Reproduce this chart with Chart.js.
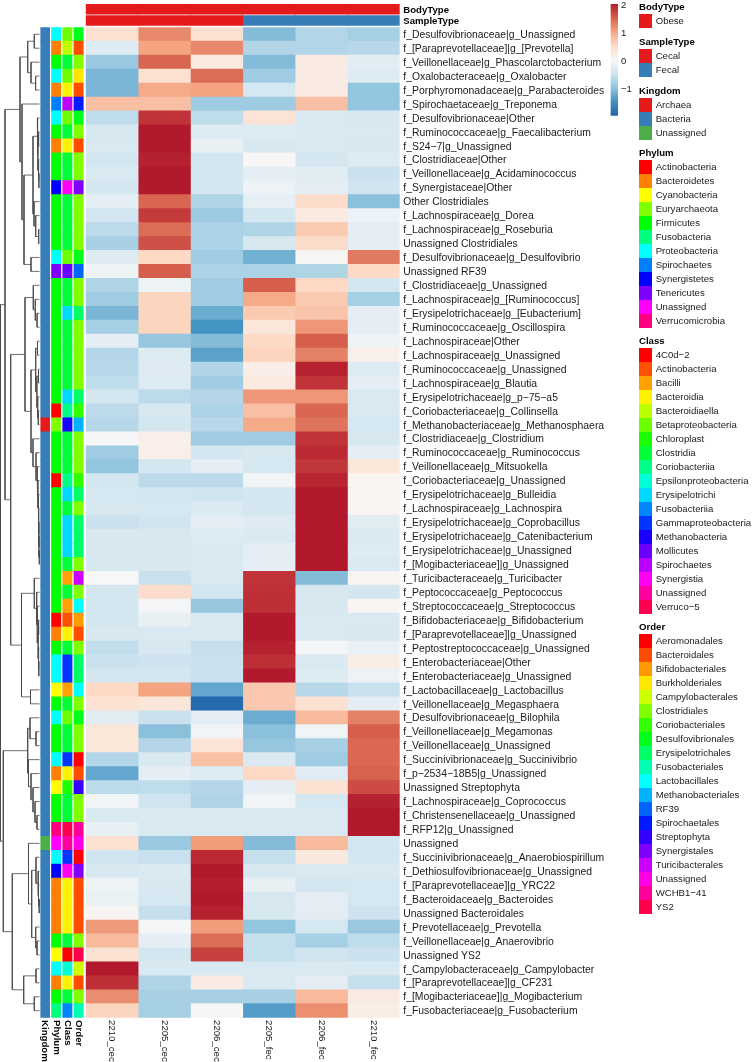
<!DOCTYPE html>
<html>
<head>
<meta charset="utf-8">
<title>Heatmap</title>
<script src="https://cdn.jsdelivr.net/npm/chart.js@4/dist/chart.umd.min.js"></script>
<style>
  body { margin: 0; background: #fff; overflow: hidden; }
  #stage { position: relative; width: 752px; height: 1062px; font-family: "Liberation Sans", Arial, sans-serif; font-size: 9.6px; color: #1a1a1a; }
  #stage canvas { position: absolute; left: 0; top: 0; }
  .leg { position: absolute; left: 639px; }
  .leg b { position: absolute; left: 0; top: -14px; line-height: 14px; color: #000; white-space: nowrap; }
  .leg div { position: relative; height: 14px; line-height: 14px; padding-left: 16.7px; white-space: nowrap; }
  .leg i { position: absolute; left: 0; top: 0; width: 13.3px; height: 14px; }
</style>
</head>
<body>
<div id="stage"></div>
<script>
// data

const rowLabels = [
  "f_Desulfovibrionaceae|g_Unassigned", "f_[Paraprevotellaceae]|g_[Prevotella]", "f_Veillonellaceae|g_Phascolarctobacterium",
  "f_Oxalobacteraceae|g_Oxalobacter", "f_Porphyromonadaceae|g_Parabacteroides", "f_Spirochaetaceae|g_Treponema",
  "f_Desulfovibrionaceae|Other", "f_Ruminococcaceae|g_Faecalibacterium", "f_S24−7|g_Unassigned", "f_Clostridiaceae|Other",
  "f_Veillonellaceae|g_Acidaminococcus", "f_Synergistaceae|Other", "Other Clostridiales", "f_Lachnospiraceae|g_Dorea",
  "f_Lachnospiraceae|g_Roseburia", "Unassigned Clostridiales", "f_Desulfovibrionaceae|g_Desulfovibrio", "Unassigned RF39",
  "f_Clostridiaceae|g_Unassigned", "f_Lachnospiraceae|g_[Ruminococcus]", "f_Erysipelotrichaceae|g_[Eubacterium]",
  "f_Ruminococcaceae|g_Oscillospira", "f_Lachnospiraceae|Other", "f_Lachnospiraceae|g_Unassigned", "f_Ruminococcaceae|g_Unassigned",
  "f_Lachnospiraceae|g_Blautia", "f_Erysipelotrichaceae|g_p−75−a5", "f_Coriobacteriaceae|g_Collinsella",
  "f_Methanobacteriaceae|g_Methanosphaera", "f_Clostridiaceae|g_Clostridium", "f_Ruminococcaceae|g_Ruminococcus",
  "f_Veillonellaceae|g_Mitsuokella", "f_Coriobacteriaceae|g_Unassigned", "f_Erysipelotrichaceae|g_Bulleidia",
  "f_Lachnospiraceae|g_Lachnospira", "f_Erysipelotrichaceae|g_Coprobacillus", "f_Erysipelotrichaceae|g_Catenibacterium",
  "f_Erysipelotrichaceae|g_Unassigned", "f_[Mogibacteriaceae]|g_Unassigned", "f_Turicibacteraceae|g_Turicibacter",
  "f_Peptococcaceae|g_Peptococcus", "f_Streptococcaceae|g_Streptococcus", "f_Bifidobacteriaceae|g_Bifidobacterium",
  "f_[Paraprevotellaceae]|g_Unassigned", "f_Peptostreptococcaceae|g_Unassigned", "f_Enterobacteriaceae|Other",
  "f_Enterobacteriaceae|g_Unassigned", "f_Lactobacillaceae|g_Lactobacillus", "f_Veillonellaceae|g_Megasphaera",
  "f_Desulfovibrionaceae|g_Bilophila", "f_Veillonellaceae|g_Megamonas", "f_Veillonellaceae|g_Unassigned",
  "f_Succinivibrionaceae|g_Succinivibrio", "f_p−2534−18B5|g_Unassigned", "Unassigned Streptophyta",
  "f_Lachnospiraceae|g_Coprococcus", "f_Christensenellaceae|g_Unassigned", "f_RFP12|g_Unassigned", "Unassigned",
  "f_Succinivibrionaceae|g_Anaerobiospirillum", "f_Dethiosulfovibrionaceae|g_Unassigned", "f_[Paraprevotellaceae]|g_YRC22",
  "f_Bacteroidaceae|g_Bacteroides", "Unassigned Bacteroidales", "f_Prevotellaceae|g_Prevotella", "f_Veillonellaceae|g_Anaerovibrio",
  "Unassigned YS2", "f_Campylobacteraceae|g_Campylobacter", "f_[Paraprevotellaceae]|g_CF231", "f_[Mogibacteriaceae]|g_Mogibacterium",
  "f_Fusobacteriaceae|g_Fusobacterium"
];

const sampleLabels = ["2210_cec", "2205_cec", "2206_cec", "2205_fec", "2206_fec", "2210_fec"];

const cec2210 = [
  0.45,-0.3,-0.9,-1.1,-1.1,0.8,-0.6,-0.38,-0.35,-0.42,
  -0.35,-0.42,-0.2,-0.44,-0.62,-0.78,-0.28,-0.07,-0.72,-0.85,
  -1.1,-0.8,-0.2,-0.68,-0.65,-0.6,-0.42,-0.62,-0.65,0.02,
  -0.85,-0.95,-0.42,-0.4,-0.38,-0.5,-0.38,-0.38,-0.38,0.05,
  -0.42,-0.42,-0.42,-0.38,-0.58,-0.5,-0.42,0.55,0.42,-0.25,
  0.35,0.35,-0.7,-1.25,-0.62,-0.05,-0.35,-0.18,0.45,-0.45,
  -0.38,-0.08,-0.12,0.1,1.12,0.85,0.42,2.04,1.88,1.22,
  0.6
];
const cec2205 = [
  1.25,1.05,1.5,0.45,1.0,0.8,1.85,2.03,2.03,1.98,
  2.03,2.03,1.5,1.8,1.45,1.65,0.55,1.55,-0.07,0.6,
  0.6,0.6,-0.92,-0.3,-0.28,-0.3,-0.62,-0.38,-0.42,0.2,
  0.2,-0.42,-0.62,-0.42,-0.4,-0.45,-0.38,-0.38,-0.38,-0.52,
  0.5,0.0,-0.15,-0.35,-0.38,-0.48,-0.42,1.05,0.35,-0.5,
  -1.0,-0.68,-0.35,-0.2,-0.6,-0.45,-0.33,-0.35,-0.9,-0.52,
  -0.33,-0.38,-0.4,-0.55,0.02,-0.2,-0.42,-0.35,-0.72,-0.78,
  -0.8
];
const cec2206 = [
  0.45,1.25,0.3,1.45,1.05,-0.85,-0.6,-0.3,-0.15,-0.42,
  -0.42,-0.42,-0.72,-0.88,-0.75,-0.75,-0.85,-0.75,-0.85,-0.85,
  -1.2,-1.45,-1.05,-1.3,-0.7,-0.85,-0.68,-0.75,-0.65,-0.85,
  -0.42,-0.2,-0.62,-0.45,-0.32,-0.22,-0.3,-0.35,-0.35,-0.35,
  -0.42,-0.92,-0.35,-0.35,-0.55,-0.5,-0.52,-1.25,-1.9,-0.22,
  -0.05,0.38,0.78,-0.3,-0.68,-0.72,-0.33,-0.35,1.1,1.92,
  2.03,2.0,2.04,1.98,1.1,1.45,1.75,-0.35,0.25,-0.78,
  0.03
];
const fec2205 = [
  -1.05,-0.7,-1.05,-0.85,-0.4,-0.85,0.4,-0.3,-0.38,0.07,
  -0.2,-0.1,-0.18,-0.42,-0.72,-0.38,-1.15,-0.75,1.55,1.0,
  0.7,0.35,0.55,0.62,0.2,0.28,1.15,0.8,1.0,-0.85,
  -0.38,-0.4,-0.02,-0.42,-0.42,-0.28,-0.32,-0.22,-0.2,1.85,
  1.88,1.88,2.03,2.03,1.98,1.88,2.03,0.72,0.72,-1.2,
  -1.0,-0.92,-0.32,0.55,-0.2,-0.05,-0.33,-0.35,-1.05,-0.55,
  -0.38,-0.15,-0.38,-0.38,-0.95,-0.55,-0.55,-0.35,-0.35,-0.78,
  -1.35
];
const fec2206 = [
  -0.7,-0.7,0.25,0.25,0.25,0.8,-0.35,-0.33,-0.35,-0.42,
  -0.25,-0.22,0.5,0.28,0.7,0.5,0.08,-0.72,0.55,0.7,
  0.75,1.15,1.55,1.3,1.98,1.85,1.15,1.5,1.4,1.85,
  1.92,1.83,1.95,2.03,2.03,2.04,2.04,2.04,2.04,-1.05,
  -0.38,-0.38,-0.35,-0.35,0.0,-0.32,-0.3,-0.65,0.42,0.85,
  -0.05,-0.78,-0.85,-0.27,0.42,-0.4,-0.33,-0.35,0.85,0.3,
  -0.35,-0.42,-0.22,-0.22,-0.4,-0.8,-0.45,-0.35,-0.22,0.85,
  1.2
];
const fec2210 = [
  -0.8,-0.65,-0.25,-0.3,-0.95,-0.95,-0.38,-0.35,-0.38,-0.3,
  -0.5,-0.45,-1.0,-0.1,-0.2,-0.2,1.35,0.55,-0.42,-0.8,
  -0.2,-0.2,-0.07,0.18,-0.3,-0.2,-0.35,-0.33,-0.4,-0.38,
  -0.2,0.35,0.1,0.1,0.1,-0.25,-0.32,-0.3,-0.33,0.1,
  -0.42,0.1,-0.35,-0.38,-0.12,0.22,-0.1,-0.52,-0.22,1.3,
  1.55,1.48,1.48,1.52,1.68,1.98,2.04,2.04,-0.42,-0.42,
  -0.35,-0.4,-0.4,-0.48,-0.9,-0.6,-0.5,-0.35,-0.55,0.25,
  0.22
];

const bodyTypeLevels = ["Obese"];
const sampleTypeLevels = ["Cecal", "Fecal"];
const kingdomLevels = ["Archaea", "Bacteria", "Unassigned"];
const phylumLevels = ["Actinobacteria", "Bacteroidetes", "Cyanobacteria", "Euryarchaeota", "Firmicutes", "Fusobacteria",
  "Proteobacteria", "Spirochaetes", "Synergistetes", "Tenericutes", "Unassigned", "Verrucomicrobia"];
const classLevels = ["4C0d−2", "Actinobacteria", "Bacilli", "Bacteroidia", "Bacteroidiaella", "Betaproteobacteria", "Chloroplast",
  "Clostridia", "Coriobacteriia", "Epsilonproteobacteria", "Erysipelotrichi", "Fusobacteriia", "Gammaproteobacteria",
  "Methanobacteria", "Mollicutes", "Spirochaetes", "Synergistia", "Unassigned", "Verruco−5"];
const orderLevels = ["Aeromonadales", "Bacteroidales", "Bifidobacteriales", "Burkholderiales", "Campylobacterales", "Clostridiales",
  "Coriobacteriales", "Desulfovibrionales", "Erysipelotrichales", "Fusobacteriales", "Lactobacillales", "Methanobacteriales",
  "RF39", "Spirochaetales", "Streptophyta", "Synergistales", "Turicibacterales", "Unassigned", "WCHB1−41", "YS2"];

// top annotation, one entry per sample
const colBodyType = [0, 0, 0, 0, 0, 0];
const colSampleType = [0, 0, 0, 1, 1, 1];

// row annotation, index into the level lists above
const rowKingdom = [
  1,1,1,1,1,1,1,1,1,1, 1,1,1,1,1,1,1,1,1,1, 1,1,1,1,1,1,1,1,0,1, 1,1,1,1,1,1,1,1,1,1,
  1,1,1,1,1,1,1,1,1,1, 1,1,1,1,1,1,1,1,2,1, 1,1,1,1,1,1,1,1,1,1, 1
];
const rowPhylum = [
  6,1,4,6,1,7,6,4,1,4, 4,8,4,4,4,4,6,9,4,4, 4,4,4,4,4,4,4,0,3,4, 4,4,0,4,4,4,4,4,4,4,
  4,4,0,1,4,6,6,2,4,6, 4,4,6,1,2,4,4,11,10,6, 8,1,1,1,1,4,2,6,1,4, 5
];
const rowClass = [
  5,4,7,5,3,15,5,7,3,7, 7,16,7,7,7,7,5,14,7,7, 10,7,7,7,7,7,10,8,13,7, 7,7,8,10,7,10,10,10,7,2,
  7,2,1,3,7,12,12,2,7,5, 7,7,12,3,6,7,7,18,17,12, 16,3,3,3,3,7,0,9,3,7, 11
];
const rowOrder = [
  7,1,5,3,1,13,7,5,1,5, 5,15,5,5,5,5,7,12,5,5, 8,5,5,5,5,5,8,6,11,5, 5,5,6,8,5,8,8,8,5,16,
  5,10,2,1,5,8,8,10,5,7, 5,5,0,1,14,5,5,18,17,0, 15,1,1,1,1,5,19,4,1,5, 9
];

// row dendrogram: [height, left, right], a plain number is a row (1 based)
const treeRows1to18 = [19.5,
  [11.8, [5.2, 1, 2], [8.5, 3, [3.9, 4, 5]]],
  [17.5, 6,
    [15.5,
      [6.5,
        [2.2, 7, [1.6, [0.9, 8, 9], [1.2, 10, [0.6, 11, 12]]]],
        [5.5, 13, [3.8, 14, [0.8, 15, 16]]]],
      [8.5, 17, 18]]]
];
const treeRows34to39 = [1.1, 34, [0.9, 35, [0.7, 36, [0.55, 37, [0.3, 38, 39]]]]];
const treeRows30to39 = [6.5, 30, [3.5, 31, [2.4, 32, [1.6, 33, treeRows34to39]]]];
const treeRows19to39 = [14.5,
  [6.2, 19, [4.2, 20, [2.4, 21, 22]]],
  [8.5,
    [3.8, [2.0, 23, 24], [2.6, [1.0, 25, 26], [1.8, 27, [1.2, 28, 29]]]],
    treeRows30to39]
];
const treeRows40to49 = [18,
  [5.2, 40, [2.8, 41, [2.2, 42, [1.5, [0.9, 43, 44], [1.1, 45, [0.7, 46, 47]]]]]],
  [9, 48, 49]
];
const treeRows50to58 = [11.8,
  [9.5, 50, [3.5, 51, 52]],
  [11, 53, [8.5, 54, [6.5, 55, [4.5, 56, [2.5, 57, 58]]]]]
];
const treeRows59to71 = [27.2,
  [11, 59,
    [7.8,
      [3.5, 60, [1.5, 61, [1, 62, [0.5, 63, 64]]]],
      [3.8, 65, [2.5, 66, 67]]]],
  [15.8, [3.5, 68, 69], [5.2, 70, 71]]
];
const rowTree = [39,
  [34.5, treeRows1to18, [28.8, treeRows19to39, treeRows40to49]],
  [36.2, treeRows50to58, treeRows59to71]
];

const colorbarTicks = [-1, 0, 1, 2];
const colorbarMin = -1.95;
const colorbarMax = 2.04;


// colours

const rampColors = ["#2166AC", "#4393C3", "#92C5DE", "#D1E5F0", "#F7F7F7", "#FDDBC7", "#F4A582", "#D6604D", "#B2182B"];
const set1 = ["#E41A1C", "#377EB8", "#4DAF4A"];

function heatColor(v) {
  const t = Math.min(Math.max((v - colorbarMin) / (colorbarMax - colorbarMin), 0), 1) * (rampColors.length - 1);
  const i = Math.min(Math.floor(t), rampColors.length - 2);
  const a = rampColors[i], b = rampColors[i + 1];
  const mix = k => {
    const p = parseInt(a.substr(k, 2), 16), q = parseInt(b.substr(k, 2), 16);
    return Math.round(p + (q - p) * (t - i));
  };
  return `rgb(${mix(1)},${mix(3)},${mix(5)})`;
}

function rainbow(n) {
  return Array.from({ length: n }, (_, i) => `hsl(${360 * i / n},100%,50%)`);
}

const phylumColors = rainbow(phylumLevels.length);
const classColors = rainbow(classLevels.length);
const orderColors = rainbow(orderLevels.length);


// layout

const W = 752, H = 1062;
const heatLeft = 85.7, heatRight = 399.7, heatTop = 27.3, heatBottom = 1017.7;
const labelFont = { family: "'Liberation Sans', Arial, sans-serif", size: 9.6 };
const rowFont = { ...labelFont, size: 10.4 };
const boldFont = { ...labelFont, weight: "bold" };

Chart.defaults.font.family = labelFont.family;
Chart.defaults.font.size = labelFont.size;
Chart.defaults.animation = false;
Chart.defaults.events = [];
Chart.defaults.plugins.legend.display = false;
Chart.defaults.plugins.tooltip.enabled = false;

const stage = document.getElementById("stage");

function addChart(config) {
  const canvas = document.createElement("canvas");
  canvas.width = W;
  canvas.height = H;
  stage.appendChild(canvas);
  config.options.responsive = false;
  config.options.devicePixelRatio = 1;
  return new Chart(canvas, config);
}

// rotated labels under the columns, chart.js only turns x ticks the other way
function columnLabels(labels, font, color) {
  return {
    id: "columnLabels",
    afterDraw(chart) {
      const ctx = chart.ctx;
      const x = chart.scales.x;
      ctx.save();
      ctx.font = `${font.weight || "normal"} ${font.size}px ${font.family}`;
      ctx.fillStyle = color;
      ctx.textAlign = "left";
      ctx.textBaseline = "middle";
      labels.forEach((label, i) => {
        ctx.save();
        ctx.translate(x.getPixelForValue(i + label.mid), chart.chartArea.bottom + 2.4);
        ctx.rotate(Math.PI / 2);
        ctx.fillText(label.text, 0, 0);
        ctx.restore();
      });
      ctx.restore();
    }
  };
}

function barColumn(col, width, rows, colorFor) {
  return {
    data: rows.map(() => [col, col + width]),
    backgroundColor: c => colorFor(c.dataIndex),
    grouped: false,
    barPercentage: 1,
    categoryPercentage: 1,
    borderWidth: 0,
    inflateAmount: 0.4
  };
}

// fixed width axis, no extra room asked for the first and last label
function fixAxis(s, width) {
  s.width = width;
  s.paddingTop = 0;
  s.paddingBottom = 0;
}

function rightLabels(font, color, labelOffset) {
  return {
    position: "right",
    afterFit: s => fixAxis(s, W - heatRight),
    grid: { display: false, drawTicks: false },
    border: { display: false },
    ticks: { font, color, labelOffset, padding: 3.6, autoSkip: false, maxRotation: 0, minRotation: 0 }
  };
}


// row dendrogram

function treePath(node, out) {
  if (typeof node === "number") return { h: 0, y: node - 0.5 };
  const a = treePath(node[1], out);
  const b = treePath(node[2], out);
  out.push({ x: a.h, y: a.y }, { x: node[0], y: a.y }, { x: node[0], y: b.y }, { x: b.h, y: b.y }, { x: null, y: null });
  return { h: node[0], y: (a.y + b.y) / 2 };
}

const dendroPoints = [];
treePath(rowTree, dendroPoints);

addChart({
  type: "scatter",
  data: {
    datasets: [{
      data: dendroPoints,
      showLine: true,
      spanGaps: false,
      pointRadius: 0,
      borderColor: "#4a4a4a",
      borderWidth: 0.8,
      clip: false
    }]
  },
  options: {
    layout: { padding: { left: 0, right: W - 39.5, top: heatTop, bottom: H - heatBottom } },
    scales: {
      x: { type: "linear", reverse: true, min: 0, max: 39.5, display: false },
      y: { type: "linear", reverse: true, min: 0, max: rowLabels.length, display: false }
    }
  }
});


// row annotation

const annotCols = [
  { text: "Kingdom", rows: rowKingdom, colors: set1 },
  { text: "Phylum", rows: rowPhylum, colors: phylumColors },
  { text: "Class", rows: rowClass, colors: classColors },
  { text: "Order", rows: rowOrder, colors: orderColors }
];

addChart({
  type: "bar",
  data: {
    labels: rowLabels,
    datasets: annotCols.map((col, i) => barColumn(i, 0.82, col.rows, r => col.colors[col.rows[r]]))
  },
  options: {
    indexAxis: "y",
    layout: { padding: { left: 40.4, right: W - 85.2, top: heatTop, bottom: H - heatBottom } },
    scales: {
      x: { type: "linear", min: 0, max: annotCols.length, display: false },
      y: { display: false }
    }
  },
  plugins: [columnLabels(annotCols.map(c => ({ text: c.text, mid: 0.41 })), boldFont, "#000")]
});


// top annotation

addChart({
  type: "bar",
  data: {
    labels: ["BodyType", "SampleType"],
    datasets: sampleLabels.map((_, c) => {
      const ds = barColumn(c, 1, [0, 1], r => r === 0 ? set1[colBodyType[c]] : set1[colSampleType[c]]);
      ds.barPercentage = 0.86;
      return ds;
    })
  },
  options: {
    indexAxis: "y",
    layout: { padding: { left: heatLeft, right: 0, top: 3.6, bottom: H - 26.2 } },
    scales: {
      x: { type: "linear", min: 0, max: 6, display: false },
      y: rightLabels(boldFont, "#000", 1.2)
    }
  }
});


// heatmap

const sampleSeries = [cec2210, cec2205, cec2206, fec2205, fec2206, fec2210];

addChart({
  type: "bar",
  data: {
    labels: rowLabels,
    datasets: sampleSeries.map((series, c) => {
      const ds = barColumn(c, 1, series, r => heatColor(series[r]));
      ds.label = sampleLabels[c];
      return ds;
    })
  },
  options: {
    indexAxis: "y",
    layout: { padding: { left: heatLeft, right: 0, top: heatTop, bottom: H - heatBottom } },
    scales: {
      x: { type: "linear", min: 0, max: 6, display: false },
      y: rightLabels(rowFont, "#1a1a1a", 0.8)
    }
  },
  plugins: [columnLabels(sampleLabels.map(s => ({ text: s, mid: 0.5 })), labelFont, "#1a1a1a")]
});


// colour bar

const barSteps = [];
for (let v = colorbarMin; v < colorbarMax; v += 0.04) barSteps.push(v);

addChart({
  type: "bar",
  data: {
    labels: [""],
    datasets: barSteps.map(v => ({
      data: [[v, v + 0.04]],
      backgroundColor: heatColor(v + 0.02),
      grouped: false,
      barPercentage: 1,
      categoryPercentage: 1,
      borderWidth: 0,
      inflateAmount: 0.4
    }))
  },
  options: {
    layout: { padding: { left: 610.7, right: 0, top: 4, bottom: H - 115.7 } },
    scales: {
      x: { display: false },
      y: {
        position: "right",
        min: colorbarMin,
        max: colorbarMax,
        afterFit: s => fixAxis(s, W - 618),
        afterBuildTicks: s => { s.ticks = colorbarTicks.map(v => ({ value: v })); },
        grid: { display: false, drawTicks: false },
        border: { display: false },
        ticks: { font: labelFont, color: "#1a1a1a", padding: 3, callback: v => v < 0 ? "−" + Math.abs(v) : String(v) }
      }
    }
  }
});


// legends

const legends = [
  { title: "BodyType", top: 14, levels: bodyTypeLevels, colors: set1 },
  { title: "SampleType", top: 49, levels: sampleTypeLevels, colors: set1 },
  { title: "Kingdom", top: 97.7, levels: kingdomLevels, colors: set1 },
  { title: "Phylum", top: 160.3, levels: phylumLevels, colors: phylumColors },
  { title: "Class", top: 348.3, levels: classLevels, colors: classColors },
  { title: "Order", top: 634.3, levels: orderLevels, colors: orderColors }
];

legends.forEach(l => {
  const box = document.createElement("div");
  box.className = "leg";
  box.style.top = l.top + "px";
  const title = document.createElement("b");
  title.textContent = l.title;
  box.appendChild(title);
  l.levels.forEach((name, i) => {
    const row = document.createElement("div");
    const swatch = document.createElement("i");
    swatch.style.background = l.colors[i];
    row.appendChild(swatch);
    row.appendChild(document.createTextNode(name));
    box.appendChild(row);
  });
  stage.appendChild(box);
});
</script>
</body>
</html>
